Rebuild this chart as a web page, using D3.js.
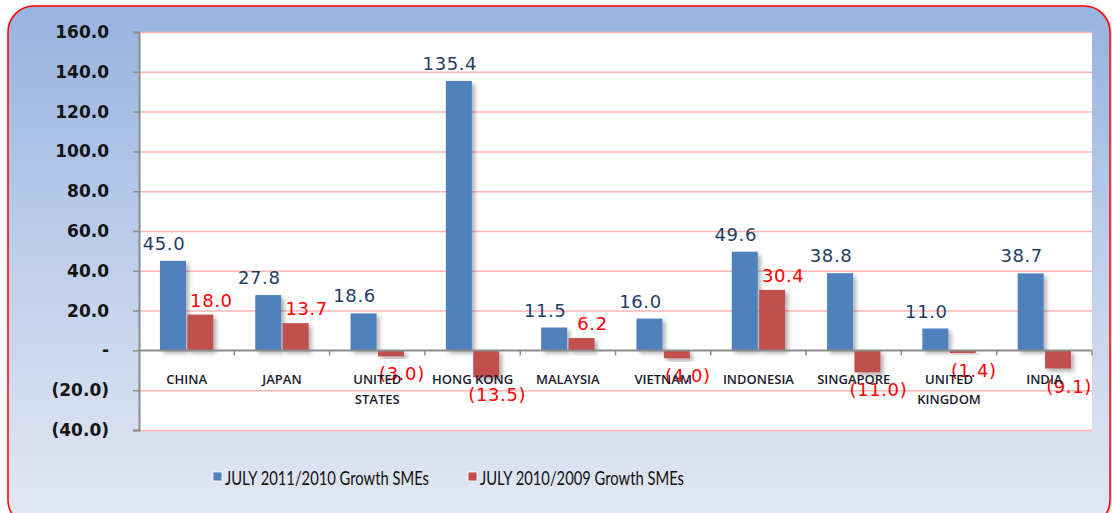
<!DOCTYPE html>
<html>
<head>
<meta charset="utf-8">
<script src="https://cdn.jsdelivr.net/npm/d3@7"></script>
<style>
  body { margin: 0; background: #ffffff; }
</style>
</head>
<body>
<div id="container"></div>
<script>
let countries = ["CHINA", "JAPAN", "UNITED STATES", "HONG KONG", "MALAYSIA",
                 "VIETNAM", "INDONESIA", "SINGAPORE", "UNITED KINGDOM", "INDIA"];
let countryLines = [["CHINA"], ["JAPAN"], ["UNITED", "STATES"], ["HONG KONG"], ["MALAYSIA"],
                    ["VIETNAM"], ["INDONESIA"], ["SINGAPORE"], ["UNITED", "KINGDOM"], ["INDIA"]];
let growth2011 = [45.0, 27.8, 18.6, 135.4, 11.5, 16.0, 49.6, 38.8, 11.0, 38.7];
let growth2010 = [18.0, 13.7, -3.0, -13.5, 6.2, -4.0, 30.4, -11.0, -1.4, -9.1];
let seriesNames = ["JULY 2011/2010 Growth SMEs", "JULY 2010/2009 Growth SMEs"];
let yTicks = [-40, -20, 0, 20, 40, 60, 80, 100, 120, 140, 160];

let w = 1112;
let h = 513;
let colors = ["#4f81bd", "#c0504d"];

let viz = d3.select("#container")
  .append("svg")
    .attr("width", w)
    .attr("height", h)
;

let defs = viz.append("defs");
let grad = defs.append("linearGradient")
    .attr("id", "bg")
    .attr("x1", 0).attr("y1", 0).attr("x2", 0).attr("y2", 1);
grad.append("stop").attr("offset", "0%").attr("stop-color", "#97b3e0");
grad.append("stop").attr("offset", "55%").attr("stop-color", "#c3d2ec");
grad.append("stop").attr("offset", "100%").attr("stop-color", "#e3e9f4");

let shadow = defs.append("filter").attr("id", "shadow")
    .attr("x", "-20%").attr("y", "-20%").attr("width", "160%").attr("height", "160%");
shadow.append("feDropShadow")
    .attr("dx", 3).attr("dy", 3).attr("stdDeviation", 2)
    .attr("flood-color", "#000").attr("flood-opacity", 0.3);

let frameShadow = defs.append("filter").attr("id", "fshadow");
frameShadow.append("feDropShadow")
    .attr("dx", 1).attr("dy", 1).attr("stdDeviation", 1.5)
    .attr("flood-color", "#000").attr("flood-opacity", 0.25);

// outer frame
viz.append("rect")
    .attr("x", 8).attr("y", 6)
    .attr("width", 1102).attr("height", 520)
    .attr("rx", 26).attr("ry", 26)
    .attr("fill", "url(#bg)")
    .attr("stroke", "#ff0000")
    .attr("stroke-width", 1.5)
    .attr("filter", "url(#fshadow)")
;

let plotLeft = 139, plotRight = 1092, plotTop = 32, plotBottom = 430;

let xScale = d3.scaleBand().domain(countries).range([plotLeft, plotRight]);
let yScale = d3.scaleLinear().domain([-40, 160]).range([plotBottom, plotTop]);
let inner = d3.scaleBand().domain([0, 1])
    .range([xScale.bandwidth() * 0.22, xScale.bandwidth() * 0.78])
    .paddingInner(0.05);

// plot area
viz.append("rect")
    .attr("x", plotLeft).attr("y", plotTop)
    .attr("width", plotRight - plotLeft).attr("height", plotBottom - plotTop)
    .attr("fill", "#ffffff");

// gridlines
viz.append("g").selectAll("line")
  .data(yTicks.filter(d => d !== 0))
  .enter().append("line")
    .attr("x1", plotLeft).attr("x2", plotRight)
    .attr("y1", d => yScale(d) + 0.5).attr("y2", d => yScale(d) + 0.5)
    .attr("stroke", "#ffb4b4")
    .attr("stroke-width", 1.5)
;

function fmt(v) {
  if (v === 0) return "-";
  if (v < 0) return "(" + d3.format(".1f")(-v) + ")";
  return d3.format(".1f")(v);
}

// y axis
let yAxis = d3.axisLeft(yScale).tickValues(yTicks).tickFormat(fmt).tickSize(6).tickPadding(24);
let yG = viz.append("g")
    .attr("transform", "translate(" + plotLeft + ",0)")
    .call(yAxis);
yG.select(".domain").attr("stroke", "#8c8c8c").attr("stroke-width", 2);
yG.selectAll(".tick line").attr("stroke", "#8c8c8c").attr("stroke-width", 1.5);
yG.selectAll(".tick text")
    .attr("fill", "#141414")
    .style("font-family", "'DejaVu Sans', sans-serif")
    .style("font-weight", "bold")
    .style("font-size", "17px");

let rows = countries.map((c, i) => ({ country: c, values: [growth2011[i], growth2010[i]] }));

let groups = viz.selectAll(".datagroup").data(rows).enter()
  .append("g")
    .classed("datagroup", true)
    .attr("transform", d => "translate(" + xScale(d.country) + ",0)")
;

groups.selectAll("rect")
  .data(d => d.values.map((v, k) => ({ v: v, k: k })))
  .enter().append("rect")
    .attr("x", d => inner(d.k))
    .attr("width", inner.bandwidth())
    .attr("y", d => yScale(Math.max(0, d.v)))
    .attr("height", d => Math.abs(yScale(d.v) - yScale(0)))
    .attr("fill", d => colors[d.k])
    .attr("filter", "url(#shadow)")
;

// x axis at zero
let xG = viz.append("g");
xG.append("line")
    .attr("x1", plotLeft).attr("x2", plotRight)
    .attr("y1", yScale(0)).attr("y2", yScale(0))
    .attr("stroke", "#8c8c8c").attr("stroke-width", 2);
xG.selectAll(".xtick")
  .data(countries.slice(1).concat(["end"]))
  .enter().append("line")
    .attr("x1", (d, i) => plotLeft + (i + 1) * xScale.step())
    .attr("x2", (d, i) => plotLeft + (i + 1) * xScale.step())
    .attr("y1", yScale(0)).attr("y2", yScale(0) + 5)
    .attr("stroke", "#8c8c8c").attr("stroke-width", 1.5);

// category labels
let catText = viz.append("g").selectAll("text")
  .data(countries)
  .enter().append("text")
    .attr("x", d => xScale(d) + xScale.bandwidth() / 2)
    .attr("y", yScale(0) + 34)
    .attr("text-anchor", "middle")
    .attr("fill", "#1a1a2e")
    .style("font-family", "'Open Sans', sans-serif")
    .style("font-weight", "600")
    .style("font-size", "13px")
;
catText.each(function(d, i) {
  let el = d3.select(this);
  countryLines[i].forEach((wd, j) => {
    el.append("tspan")
      .attr("x", xScale(d) + xScale.bandwidth() / 2)
      .attr("dy", j === 0 ? 0 : 20)
      .text(wd);
  });
});

// value labels
groups.selectAll(".vlabel")
  .data(d => d.values.map((v, k) => ({ v: v, k: k })))
  .enter().append("text")
    .attr("x", d => inner(d.k) + inner.bandwidth() / 2 + (d.k === 0 ? -9 : 11))
    .attr("y", d => d.v >= 0 ? yScale(d.v) - (d.k === 0 ? 11 : 8) : yScale(d.v) + 24)
    .attr("text-anchor", "middle")
    .attr("fill", d => d.k === 0 ? "#1f3d66" : "#ff0000")
    .style("font-family", "'DejaVu Sans', sans-serif")
    .style("font-size", "18px")
    .style("letter-spacing", "0.6px")
    .text(d => fmt(d.v))
;

// legend
let legend = viz.append("g");
let legendX = [213, 468];
seriesNames.forEach((name, k) => {
  legend.append("rect")
    .attr("x", legendX[k]).attr("y", 472)
    .attr("width", 9).attr("height", 9)
    .attr("fill", colors[k])
    .attr("stroke", "#ffffff").attr("stroke-width", 0.8);
  legend.append("text")
    .attr("x", legendX[k] + 12).attr("y", 485)
    .attr("fill", "#111")
    .style("font-family", "'Liberation Sans Narrow', Lato, sans-serif")
    .style("font-size", "19px")
    .attr("textLength", 204)
    .attr("lengthAdjust", "spacingAndGlyphs")
    .text(name);
});
</script>
</body>
</html>
